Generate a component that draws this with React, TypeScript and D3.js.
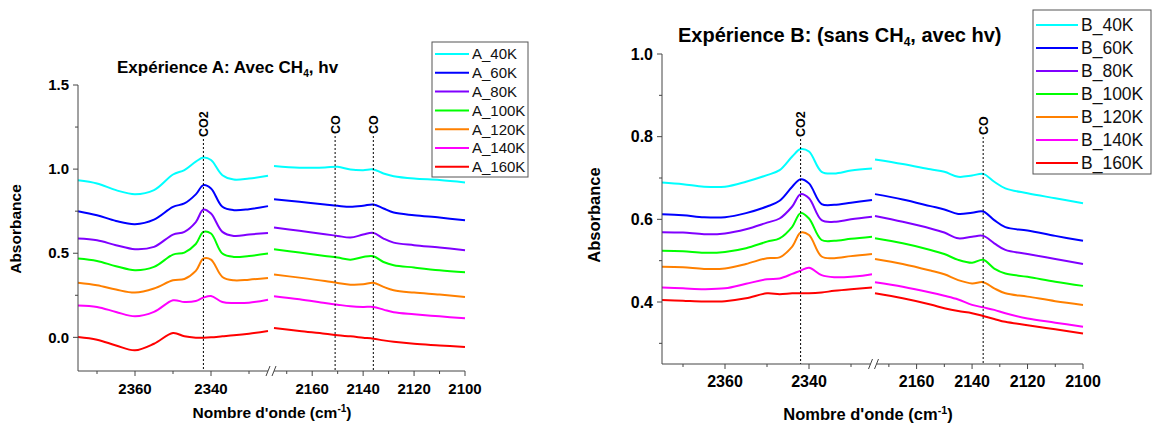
import React from "react";
import * as d3 from "d3";

// ---------- data ----------
const WN_LEFT = [2375, 2370, 2365, 2360, 2355, 2350, 2347, 2344, 2342, 2340, 2337, 2334, 2330, 2325];
const WN_RIGHT = [2175, 2165, 2155, 2150, 2145, 2140, 2136, 2132, 2128, 2120, 2110, 2100];

const TEMPS = ["40K", "60K", "80K", "100K", "120K", "140K", "160K"];
const COLORS = ["#00ffff", "#0000ff", "#8000ff", "#00ff00", "#ff8000", "#ff00ff", "#ff0000"];

// Experience A, CO2 region
const A_40K_L = [0.934, 0.915, 0.875, 0.851, 0.875, 0.968, 0.994, 1.044, 1.069, 1.054, 0.964, 0.938, 0.944, 0.96];
const A_60K_L = [0.75, 0.726, 0.692, 0.673, 0.7, 0.776, 0.796, 0.85, 0.905, 0.885, 0.776, 0.756, 0.762, 0.78];
const A_80K_L = [0.587, 0.577, 0.548, 0.524, 0.538, 0.611, 0.627, 0.685, 0.76, 0.736, 0.627, 0.603, 0.611, 0.621];
const A_100K_L = [0.468, 0.454, 0.423, 0.399, 0.419, 0.492, 0.504, 0.555, 0.627, 0.617, 0.498, 0.478, 0.484, 0.498];
const A_120K_L = [0.325, 0.31, 0.284, 0.266, 0.29, 0.339, 0.347, 0.395, 0.468, 0.462, 0.359, 0.339, 0.343, 0.353];
const A_140K_L = [0.19, 0.181, 0.151, 0.125, 0.151, 0.22, 0.21, 0.216, 0.236, 0.246, 0.21, 0.204, 0.206, 0.224];
const A_160K_L = [0.002, -0.014, -0.048, -0.077, -0.038, 0.026, 0.006, -0.002, -0.002, 0.0, 0.006, 0.012, 0.022, 0.038];
// Experience A, CO region
const A_40K_R = [1.018, 1.008, 1.01, 1.014, 0.998, 0.994, 0.998, 0.974, 0.958, 0.944, 0.935, 0.921];
const A_60K_R = [0.821, 0.806, 0.79, 0.782, 0.776, 0.782, 0.79, 0.766, 0.742, 0.726, 0.712, 0.696];
const A_80K_R = [0.653, 0.633, 0.613, 0.603, 0.593, 0.611, 0.621, 0.587, 0.563, 0.548, 0.534, 0.518];
const A_100K_R = [0.524, 0.504, 0.484, 0.474, 0.462, 0.478, 0.482, 0.448, 0.429, 0.415, 0.399, 0.387];
const A_120K_R = [0.373, 0.355, 0.335, 0.323, 0.313, 0.315, 0.325, 0.3, 0.28, 0.266, 0.254, 0.24];
const A_140K_R = [0.244, 0.226, 0.204, 0.194, 0.185, 0.181, 0.181, 0.165, 0.149, 0.137, 0.125, 0.113];
const A_160K_R = [0.056, 0.038, 0.022, 0.012, 0.006, -0.002, -0.008, -0.018, -0.026, -0.038, -0.048, -0.058];

// Experience B, CO2 region
const B_40K_L = [0.689, 0.685, 0.679, 0.679, 0.691, 0.707, 0.719, 0.752, 0.77, 0.764, 0.715, 0.711, 0.718, 0.723];
const B_60K_L = [0.612, 0.61, 0.605, 0.605, 0.615, 0.631, 0.645, 0.679, 0.697, 0.687, 0.637, 0.635, 0.64, 0.647];
const B_80K_L = [0.569, 0.568, 0.564, 0.566, 0.576, 0.592, 0.602, 0.631, 0.661, 0.651, 0.598, 0.594, 0.6, 0.606];
const B_100K_L = [0.524, 0.523, 0.519, 0.521, 0.53, 0.546, 0.554, 0.582, 0.615, 0.602, 0.55, 0.548, 0.553, 0.558];
const B_120K_L = [0.485, 0.484, 0.48, 0.481, 0.492, 0.506, 0.508, 0.534, 0.568, 0.562, 0.51, 0.506, 0.511, 0.516];
const B_140K_L = [0.435, 0.433, 0.431, 0.433, 0.444, 0.455, 0.457, 0.468, 0.476, 0.483, 0.465, 0.46, 0.461, 0.467];
const B_160K_L = [0.405, 0.403, 0.401, 0.402, 0.409, 0.421, 0.419, 0.421, 0.421, 0.421, 0.423, 0.427, 0.431, 0.435];
// Experience B, CO region
const B_40K_R = [0.745, 0.734, 0.721, 0.715, 0.703, 0.706, 0.71, 0.691, 0.675, 0.663, 0.651, 0.639];
const B_60K_R = [0.661, 0.648, 0.632, 0.624, 0.613, 0.616, 0.619, 0.598, 0.581, 0.573, 0.56, 0.548];
const B_80K_R = [0.608, 0.594, 0.578, 0.568, 0.554, 0.558, 0.56, 0.542, 0.526, 0.516, 0.504, 0.492];
const B_100K_R = [0.554, 0.542, 0.526, 0.516, 0.502, 0.495, 0.502, 0.481, 0.469, 0.461, 0.449, 0.439];
const B_120K_R = [0.504, 0.492, 0.476, 0.467, 0.453, 0.445, 0.448, 0.433, 0.421, 0.413, 0.402, 0.393];
const B_140K_R = [0.448, 0.437, 0.423, 0.415, 0.406, 0.393, 0.387, 0.381, 0.373, 0.36, 0.35, 0.34];
const B_160K_R = [0.421, 0.409, 0.394, 0.385, 0.378, 0.373, 0.366, 0.359, 0.352, 0.344, 0.334, 0.324];

const A_LEFT = [A_40K_L, A_60K_L, A_80K_L, A_100K_L, A_120K_L, A_140K_L, A_160K_L];
const A_RIGHT = [A_40K_R, A_60K_R, A_80K_R, A_100K_R, A_120K_R, A_140K_R, A_160K_R];
const B_LEFT = [B_40K_L, B_60K_L, B_80K_L, B_100K_L, B_120K_L, B_140K_L, B_160K_L];
const B_RIGHT = [B_40K_R, B_60K_R, B_80K_R, B_100K_R, B_120K_R, B_140K_R, B_160K_R];

const X_MAJOR_L = [2360, 2340];
const X_MINOR_L = [2370, 2350, 2330];
const X_MAJOR_R = [2160, 2140, 2120, 2100];
const X_MINOR_R = [2170, 2150, 2130, 2110];

const A_Y_MAJOR = [0, 0.5, 1.0, 1.5];
const A_Y_MINOR = [0.25, 0.75, 1.25];
const B_Y_MAJOR = [0.4, 0.6, 0.8, 1.0];
const B_Y_MINOR = [0.3, 0.5, 0.7, 0.9];

const A_MARKERS = [{ wn: 2342, label: "CO2" }, { wn: 2151, label: "CO" }, { wn: 2136, label: "CO" }];
const B_MARKERS = [{ wn: 2342, label: "CO2" }, { wn: 2136, label: "CO" }];

const FONT = "'Liberation Sans', Arial, sans-serif";

type Cfg = {
  prefix: string;
  left: number[][];
  right: number[][];
  yDomain: [number, number];
  yRange: [number, number];
  xl: [number, number];
  xr: [number, number];
  yMajor: number[];
  yMinor: number[];
  tickFs: number;
  labelFs: number;
  markers: { wn: number; label: string; top: number }[];
  title: { x: number; y: number; pre: string; post: string; fs: number };
  legend: { x: number; y: number; w: number; h: number; row0: number; dy: number; fs: number; lineW: number };
  yLabel: { x: number; y: number };
  xLabel: { x: number; y: number };
};

function Chart({ c }: { c: Cfg }) {
  const y = d3.scaleLinear().domain(c.yDomain).range(c.yRange);
  const xL = d3.scaleLinear().domain([2375, 2325]).range(c.xl);
  const xR = d3.scaleLinear().domain([2175, 2100]).range(c.xr);
  const yb = c.yRange[0];
  const ax = c.xl[0];
  const curve = d3.curveCatmullRom.alpha(0.5);
  const lineL = d3.line<number>().x((_, i) => xL(WN_LEFT[i])).y((d) => y(d)).curve(curve);
  const lineR = d3.line<number>().x((_, i) => xR(WN_RIGHT[i])).y((d) => y(d)).curve(curve);
  const xOf = (wn: number) => (wn > 2250 ? xL(wn) : xR(wn));
  const axisColor = "#444";
  const brk = (c.xl[1] + c.xr[0]) / 2;
  return (
    <g>
      {c.left.map((s, i) => (
        <path key={"l" + i} d={lineL(s) || ""} fill="none" stroke={COLORS[i]} strokeWidth={2} strokeLinejoin="round" />
      ))}
      {c.right.map((s, i) => (
        <path key={"r" + i} d={lineR(s) || ""} fill="none" stroke={COLORS[i]} strokeWidth={2} strokeLinejoin="round" />
      ))}
      {c.markers.map((m, i) => (
        <g key={"m" + i}>
          <line x1={xOf(m.wn)} x2={xOf(m.wn)} y1={m.top + 2} y2={yb} stroke="#000" strokeWidth={1} strokeDasharray="2,2" />
          <text
            transform={`translate(${xOf(m.wn) + 4.5},${m.top}) rotate(-90)`}
            fontFamily={FONT}
            fontSize={12.5}
            fontWeight="bold"
            fill="#000"
          >
            {m.label}
          </text>
        </g>
      ))}
      <line x1={ax} x2={ax} y1={c.yRange[1]} y2={yb} stroke={axisColor} strokeWidth={1} />
      {c.yMajor.map((v) => (
        <g key={"ym" + v}>
          <line x1={ax - 5} x2={ax} y1={y(v)} y2={y(v)} stroke={axisColor} />
          <text x={ax - 9} y={y(v)} dy="0.35em" textAnchor="end" fontFamily={FONT} fontSize={c.tickFs} fontWeight="bold">
            {v.toFixed(1)}
          </text>
        </g>
      ))}
      {c.yMinor.map((v) => (
        <line key={"yn" + v} x1={ax - 3} x2={ax} y1={y(v)} y2={y(v)} stroke={axisColor} />
      ))}
      <line x1={c.xl[0]} x2={brk - 3} y1={yb} y2={yb} stroke={axisColor} />
      <line x1={brk + 3} x2={c.xr[1]} y1={yb} y2={yb} stroke={axisColor} />
      <line x1={brk - 5} x2={brk - 1} y1={yb + 5} y2={yb - 5} stroke={axisColor} />
      <line x1={brk + 1} x2={brk + 5} y1={yb + 5} y2={yb - 5} stroke={axisColor} />
      {X_MAJOR_L.map((v) => (
        <g key={"xl" + v}>
          <line x1={xL(v)} x2={xL(v)} y1={yb} y2={yb + 5} stroke={axisColor} />
          <text x={xL(v)} y={yb + 23} textAnchor="middle" fontFamily={FONT} fontSize={c.tickFs} fontWeight="bold">{v}</text>
        </g>
      ))}
      {X_MINOR_L.map((v) => (
        <line key={"xln" + v} x1={xL(v)} x2={xL(v)} y1={yb} y2={yb + 3} stroke={axisColor} />
      ))}
      {X_MAJOR_R.map((v) => (
        <g key={"xr" + v}>
          <line x1={xR(v)} x2={xR(v)} y1={yb} y2={yb + 5} stroke={axisColor} />
          <text x={xR(v)} y={yb + 23} textAnchor="middle" fontFamily={FONT} fontSize={c.tickFs} fontWeight="bold">{v}</text>
        </g>
      ))}
      {X_MINOR_R.map((v) => (
        <line key={"xrn" + v} x1={xR(v)} x2={xR(v)} y1={yb} y2={yb + 3} stroke={axisColor} />
      ))}
      <text
        transform={`translate(${c.yLabel.x},${c.yLabel.y}) rotate(-90)`}
        textAnchor="middle"
        fontFamily={FONT}
        fontSize={c.labelFs}
        fontWeight="bold"
      >
        Absorbance
      </text>
      <text x={c.xLabel.x} y={c.xLabel.y} textAnchor="middle" fontFamily={FONT} fontSize={c.labelFs} fontWeight="bold">
        Nombre d'onde (cm
        <tspan dy={-6} fontSize={c.labelFs * 0.65}>-1</tspan>
        <tspan dy={6}>)</tspan>
      </text>
      <text x={c.title.x} y={c.title.y} fontFamily={FONT} fontSize={c.title.fs} fontWeight="bold">
        {c.title.pre}
        <tspan dy={4} fontSize={c.title.fs * 0.6}>4</tspan>
        <tspan dy={-4}>{c.title.post}</tspan>
      </text>
      <rect x={c.legend.x} y={c.legend.y} width={c.legend.w} height={c.legend.h} fill="#fff" stroke="#555" strokeWidth={1} />
      {TEMPS.map((t, i) => {
        const ry = c.legend.row0 + i * c.legend.dy;
        return (
          <g key={"lg" + i}>
            <line x1={c.legend.x + 3} x2={c.legend.x + 3 + c.legend.lineW} y1={ry} y2={ry} stroke={COLORS[i]} strokeWidth={2} />
            <text x={c.legend.x + c.legend.lineW + 6} y={ry} dy="0.36em" fontFamily={FONT} fontSize={c.legend.fs} fill="#111">
              {c.prefix + "_" + t}
            </text>
          </g>
        );
      })}
    </g>
  );
}

const CFG_A: Cfg = {
  prefix: "A",
  left: A_LEFT,
  right: A_RIGHT,
  yDomain: [-0.2, 1.5],
  yRange: [371, 85],
  xl: [78, 268],
  xr: [274, 465],
  yMajor: A_Y_MAJOR,
  yMinor: A_Y_MINOR,
  tickFs: 15,
  labelFs: 15.5,
  markers: A_MARKERS.map((m) => ({ ...m, top: m.label === "CO2" ? 137 : 134 })),
  title: { x: 117, y: 73, pre: "Expérience A: Avec CH", post: ", hv", fs: 17 },
  legend: { x: 432, y: 42, w: 96, h: 135, row0: 54, dy: 18.8, fs: 15, lineW: 34 },
  yLabel: { x: 21, y: 229 },
  xLabel: { x: 272, y: 418 },
};

const CFG_B: Cfg = {
  prefix: "B",
  left: B_LEFT,
  right: B_RIGHT,
  yDomain: [0.25, 1.0],
  yRange: [364, 54],
  xl: [662, 872],
  xr: [875, 1083],
  yMajor: B_Y_MAJOR,
  yMinor: B_Y_MINOR,
  tickFs: 16,
  labelFs: 16.5,
  markers: B_MARKERS.map((m) => ({ ...m, top: m.label === "CO2" ? 137 : 135 })),
  title: { x: 678, y: 42, pre: "Expérience B: (sans CH", post: ", avec hv)", fs: 20 },
  legend: { x: 1033, y: 10, w: 118, h: 164, row0: 25, dy: 23, fs: 17.5, lineW: 42 },
  yLabel: { x: 600, y: 215 },
  xLabel: { x: 868, y: 420 },
};

export default function App() {
  return (
    <svg width={1153} height={428} style={{ position: "absolute", left: 0, top: 0, background: "#fff" }}>
      <rect x={0} y={0} width={1153} height={428} fill="#fff" />
      <Chart c={CFG_A} />
      <Chart c={CFG_B} />
    </svg>
  );
}
